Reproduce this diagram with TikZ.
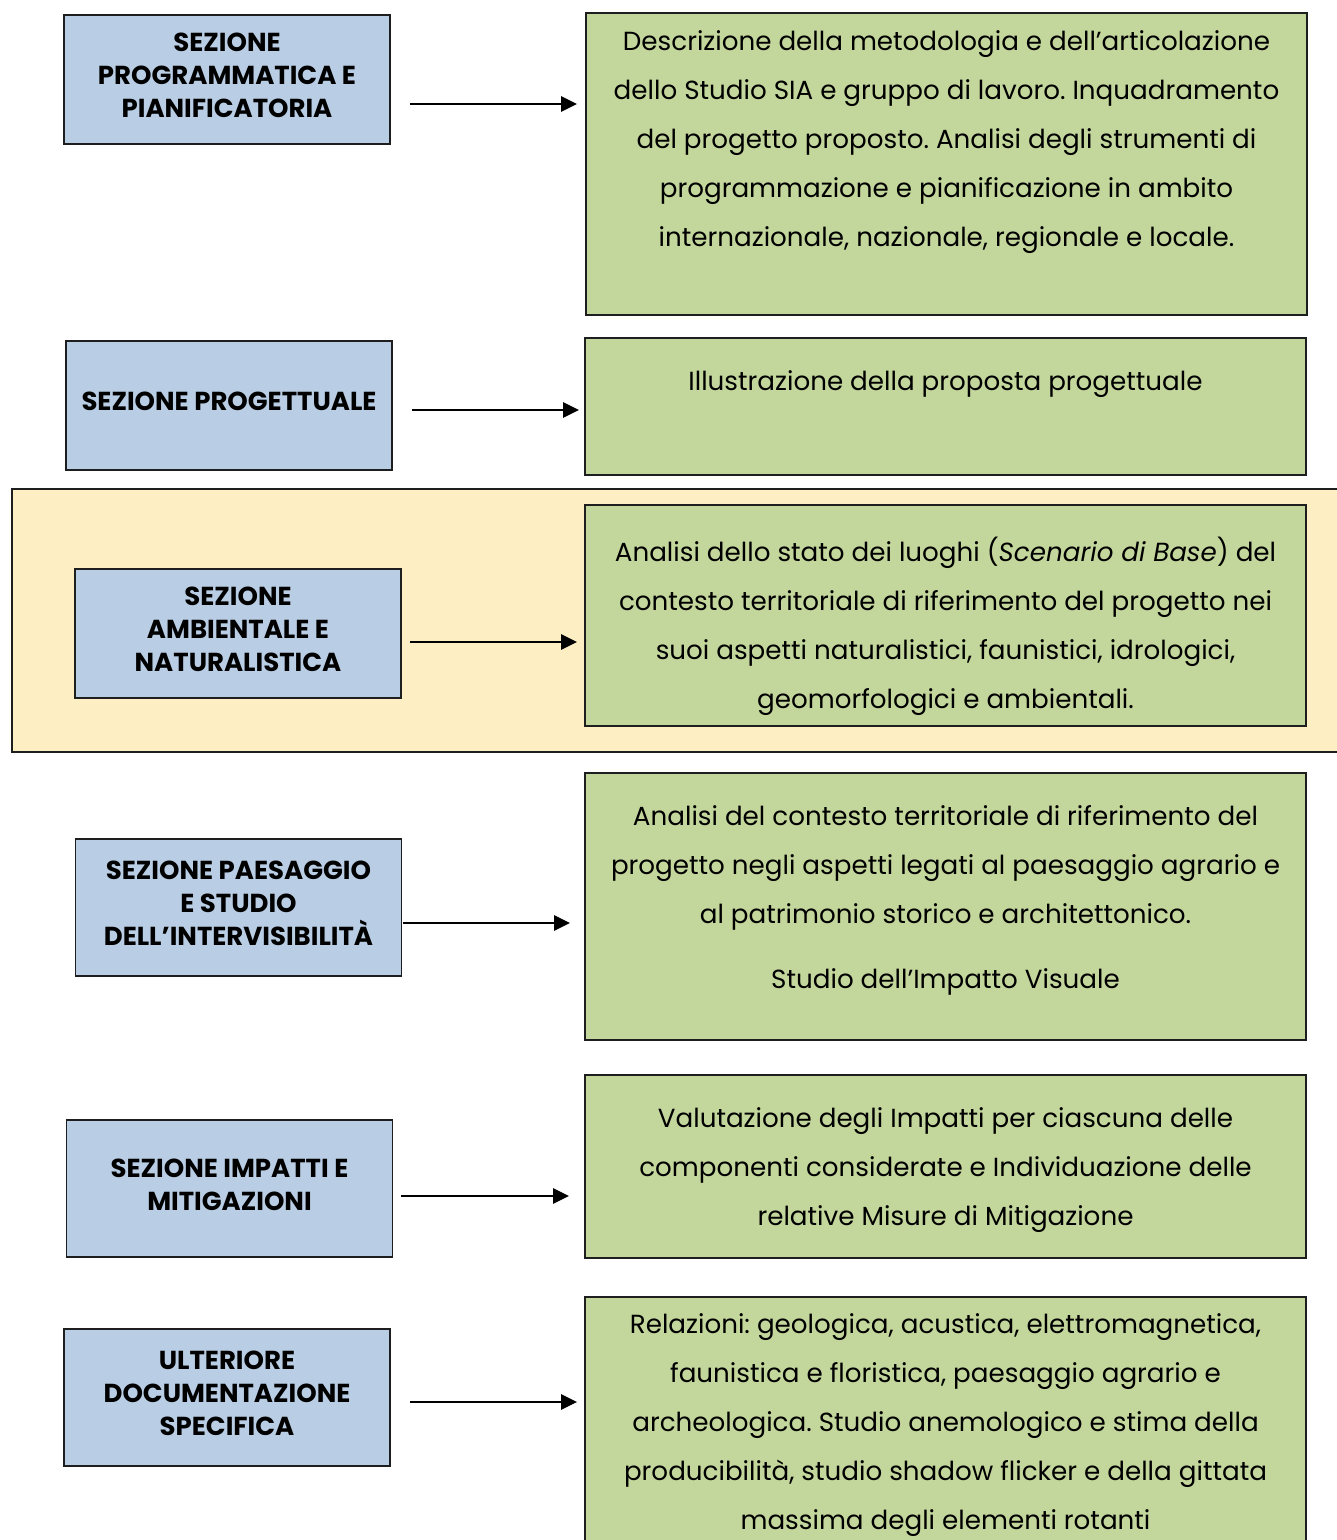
\documentclass[tikz,border=0pt]{standalone}
\usepackage{fontspec}
\setmainfont{Poppins}
\frenchspacing
\usetikzlibrary{shapes,arrows.meta,positioning,calc}
\definecolor{sezioneblue}{RGB}{185,205,228}
\definecolor{descgreen}{RGB}{195,214,155}
\definecolor{ambyellow}{RGB}{254,238,196}
\definecolor{boxborder}{RGB}{30,30,30}
\tikzset{
    sezione/.style={rectangle, draw=boxborder, line width=1.1pt, fill=sezioneblue, minimum width=6.52cm, align=center, text depth=0.16cm, font=\fontsize{14.8}{18.7}\selectfont\bfseries},
    descbox/.style={rectangle, draw=boxborder, line width=1.1pt, fill=descgreen, minimum width=14.42cm},
    desctext/.style={inner sep=0pt, align=center, font=\fontsize{14.9}{27.9}\selectfont},
    freccia/.style={-{Triangle[length=0.32cm,width=0.3cm]}, line width=1.5pt}
}

\begin{document}
\begin{tikzpicture}[x=0.02cm, y=-0.02cm]
    \path[use as bounding box, clip] (0,0) rectangle (1337,1540);
    \fill[white] (0,0) rectangle (1337,1540);

    % fascia evidenziata
    \draw[fill=ambyellow, draw=boxborder, line width=1.1pt] (12,489) rectangle (1350,752);

    % sezioni
    \node[sezione, minimum height=2.58cm] (b1) at (227,79.5) {SEZIONE\\PROGRAMMATICA E\\PIANIFICATORIA};
    \node[sezione, minimum height=2.58cm] (b2) at (229,405.5) {SEZIONE PROGETTUALE};
    \node[sezione, minimum height=2.58cm] (b3) at (238,633.5) {SEZIONE\\AMBIENTALE E\\NATURALISTICA};
    \node[sezione, minimum height=2.74cm] (b4) at (238.5,907.5) {SEZIONE PAESAGGIO\\E STUDIO\\DELL’INTERVISIBILITÀ};
    \node[sezione, minimum height=2.74cm] (b5) at (229.5,1188.5) {SEZIONE IMPATTI E\\MITIGAZIONI};
    \node[sezione, minimum height=2.74cm] (b6) at (227,1397.5) {ULTERIORE\\DOCUMENTAZIONE\\SPECIFICA};

    % descrizioni
    \node[descbox, minimum height=6.04cm] (g1) at (946.5,164) {};
    \node[descbox, minimum height=2.74cm] (g2) at (945.5,406.5) {};
    \node[descbox, minimum height=4.42cm] (g3) at (945.5,615.5) {};
    \node[descbox, minimum height=5.34cm] (g4) at (945.5,906.5) {};
    \node[descbox, minimum height=3.66cm] (g5) at (945.5,1166.5) {};
    \node[descbox, minimum height=5.26cm] (g6) at (945.5,1428.5) {};

    \node[desctext, below=0.36cm of g1.north] (t1) {Descrizione della metodologia e dell’articolazione\\dello Studio SIA e gruppo di lavoro. Inquadramento\\del progetto proposto. Analisi degli strumenti di\\programmazione e pianificazione in ambito\\internazionale, nazionale, regionale e locale.};
    \node[desctext, below=0.66cm of g2.north] (t2) {Illustrazione della proposta progettuale};
    \node[desctext, below=0.66cm of g3.north] (t3) {Analisi dello stato dei luoghi (\textit{Scenario di Base}) del\\contesto territoriale di riferimento del progetto nei\\suoi aspetti naturalistici, faunistici, idrologici,\\geomorfologici e ambientali.};
    \node[desctext, below=0.66cm of g4.north] (t4) {Analisi del contesto territoriale di riferimento del\\progetto negli aspetti legati al paesaggio agrario e\\al patrimonio storico e architettonico.\\[0.32cm]Studio dell’Impatto Visuale};
    \node[desctext, below=0.66cm of g5.north] (t5) {Valutazione degli Impatti per ciascuna delle\\componenti considerate e Individuazione delle\\relative Misure di Mitigazione};
    \node[desctext, below=0.34cm of g6.north] (t6) {Relazioni: geologica, acustica, elettromagnetica,\\faunistica e floristica, paesaggio agrario e\\archeologica. Studio anemologico e stima della\\producibilità, studio shadow flicker e della gittata\\massima degli elementi rotanti};

    % frecce
    \coordinate (p1) at ([yshift=-0.49cm]b1.east);
    \coordinate (p2) at ([yshift=-0.09cm]b2.east);
    \coordinate (p3) at ([yshift=-0.17cm]b3.east);
    \coordinate (p4) at ([yshift=-0.31cm]b4.east);
    \coordinate (p5) at ([yshift=-0.15cm]b5.east);
    \coordinate (p6) at ([yshift=-0.09cm]b6.east);
    \draw[freccia, shorten <=0.38cm, shorten >=0.16cm] (p1) -- (p1 -| g1.west);
    \draw[freccia, shorten <=0.38cm, shorten >=0.10cm] (p2) -- (p2 -| g2.west);
    \draw[freccia, shorten <=0.16cm, shorten >=0.14cm] (p3) -- (p3 -| g3.west);
    \draw[freccia, shorten <=0.02cm, shorten >=0.28cm] (p4) -- (p4 -| g4.west);
    \draw[freccia, shorten <=0.16cm, shorten >=0.30cm] (p5) -- (p5 -| g5.west);
    \draw[freccia, shorten <=0.38cm, shorten >=0.14cm] (p6) -- (p6 -| g6.west);
\end{tikzpicture}
\end{document}
